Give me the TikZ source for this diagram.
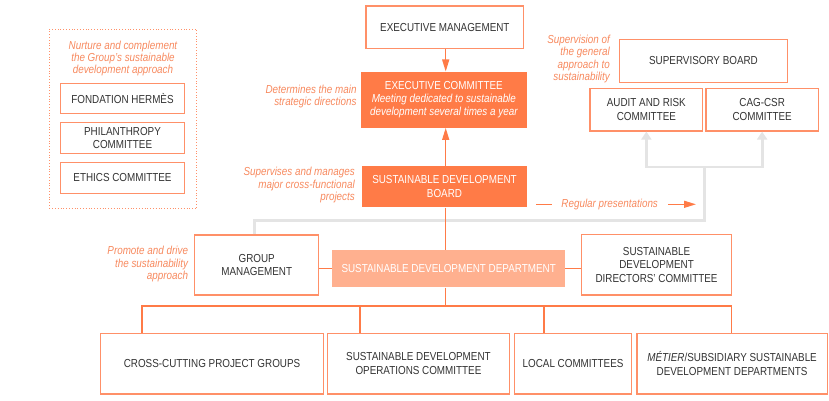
\documentclass[tikz,border=0pt]{standalone}
\usepackage{fontspec}
\setmainfont{Liberation Sans}[FakeStretch=0.85]
\usetikzlibrary{arrows.meta,calc}
\definecolor{darkor}{HTML}{FF7B47}
\definecolor{lightor}{HTML}{FFB08F}
\definecolor{bordcol}{HTML}{FF9068}
\definecolor{linecol}{HTML}{FF7B47}
\definecolor{notecol}{HTML}{F7895E}
\definecolor{greycol}{HTML}{E4E4E4}
\definecolor{txtcol}{HTML}{333333}
\tikzset{
  boxfont/.style={font=\fontsize{11.6}{13.4}\selectfont},
  notefont/.style={font=\fontsize{11.6}{12.4}\selectfont\itshape},
  wbox/.style={draw=bordcol, line width=1.1pt, fill=white, text=txtcol, align=center, inner sep=0pt, boxfont},
  dbox/.style={fill=darkor, draw=none, text=white, align=center, inner sep=0pt, boxfont},
  lbox/.style={fill=lightor, draw=none, text=white, align=center, inner sep=0pt, boxfont},
  note/.style={text=notecol, inner sep=0pt, notefont},
  conn/.style={draw=linecol, line width=1.3pt},
  oarrow/.style={conn, -{Triangle[length=12pt,width=7pt]}},
  gline/.style={draw=greycol, line width=2.8pt},
  garrow/.style={gline, -{Triangle[length=8pt,width=10pt]}},
}
\begin{document}
\begin{tikzpicture}[x=1pt,y=-1pt]
\useasboundingbox (0,0) rectangle (829,401);
% left dotted group
\node[draw=bordcol, dotted, line width=0.8pt, minimum width=147.4pt, minimum height=179pt, inner sep=0pt] (grp) at (123,118.8) {};
\node[note, align=center] (grpnote) at (123,58.5) {Nurture and complement\\the Group's sustainable\\development approach};
\node[wbox, minimum width=123.6pt, minimum height=30pt] (fond) at (122.5,98.3) {FONDATION HERMÈS};
\node[wbox, minimum width=123.6pt, minimum height=31pt] (phil) at (122.5,137.8) {PHILANTHROPY\\COMMITTEE};
\node[wbox, minimum width=123.6pt, minimum height=30.6pt] (ethics) at (122.5,178) {ETHICS COMMITTEE};
% centre column
\node[wbox, minimum width=157.7pt, minimum height=42.3pt] (execm) at (444.85,27.15) {EXECUTIVE MANAGEMENT};
\node[dbox, minimum width=165.7pt, minimum height=56pt] (execc) at (443.85,99.7) {EXECUTIVE COMMITTEE\\\itshape Meeting dedicated to sustainable\\\itshape development several times a year};
\node[dbox, minimum width=165.6pt, minimum height=41.6pt] (sdb) at (444.5,186.5) {SUSTAINABLE DEVELOPMENT\\BOARD};
\node[note, align=right, anchor=east] (detnote) at (356.7,96.5) {Determines the main\\strategic directions};
\node[note, align=right, anchor=east] (supnote) at (355,185) {Supervises and manages\\major cross-functional\\projects};
% right column
\node[wbox, minimum width=168.4pt, minimum height=43pt] (supb) at (703.5,60.8) {SUPERVISORY BOARD};
\node[wbox, minimum width=112.7pt, minimum height=42.7pt] (audit) at (646.35,109.65) {AUDIT AND RISK\\COMMITTEE};
\node[wbox, minimum width=112.3pt, minimum height=42.7pt] (cag) at (762.15,109.65) {CAG-CSR\\COMMITTEE};
\node[note, align=right, anchor=east] (svnote) at (610,59.2) {Supervision of\\the general\\approach to\\sustainability};
% middle row
\node[wbox, minimum width=123.8pt, minimum height=60pt] (gm) at (256.7,265) {GROUP\\MANAGEMENT};
\node[lbox, minimum width=233.1pt, minimum height=37.3pt] (sdd) at (448.65,268.65) {SUSTAINABLE DEVELOPMENT DEPARTMENT};
\node[wbox, minimum width=150.5pt, minimum height=60.7pt] (sddc) at (656.55,264.65) {SUSTAINABLE\\DEVELOPMENT\\DIRECTORS' COMMITTEE};
\node[note, align=right, anchor=east] (prnote) at (188.2,264) {Promote and drive\\the sustainability\\approach};
% bottom row
\node[wbox, minimum width=223.2pt, minimum height=60.7pt] (cross) at (212,363.65) {CROSS-CUTTING PROJECT GROUPS};
\node[wbox, minimum width=181.3pt, minimum height=60.7pt] (ops) at (418.45,363.65) {SUSTAINABLE DEVELOPMENT\\OPERATIONS COMMITTEE};
\node[wbox, minimum width=117.5pt, minimum height=60.7pt] (local) at (573.05,363.65) {LOCAL COMMITTEES};
\node[wbox, minimum width=190.1pt, minimum height=60.7pt] (metier) at (732.05,363.65) {\textit{MÉTIER}/SUBSIDIARY SUSTAINABLE\\DEVELOPMENT DEPARTMENTS};
% helper coordinates
\coordinate (spine) at (445.7,0);
\coordinate (bus) at (0,306);
\coordinate (b1) at (141.9,0);
\coordinate (b2) at (359.9,0);
\coordinate (b3) at (544,0);
\coordinate (b4) at (731.8,0);
\coordinate (g1) at (254.5,0);
\coordinate (gtop) at (0,220.7);
\coordinate (trunk) at (704.5,0);
\coordinate (gmid) at (0,167);
\coordinate (rp1) at (536,204.3);
\coordinate (rp2) at (551.7,204.3);
\coordinate (rp3) at (668.3,204.3);
\coordinate (rp4) at (696,204.3);
% grey connectors
\draw[gline] (gm.north -| g1) -- (g1 |- gtop) -- (trunk |- gtop) -- (trunk |- gmid);
\draw[garrow] (trunk |- gmid) -| (audit.south);
\draw[garrow] (trunk |- gmid) -| (cag.south);
% orange connectors
\draw[oarrow] (execm.south -| spine) -- (execc.north -| spine);
\draw[oarrow] (sdb.north -| spine) -- (execc.south -| spine);
\draw[conn] (sdb.south -| spine) -- (sdd.north -| spine);
\draw[conn] (gm.east |- sdd.center) -- (sdd.west);
\draw[conn] (sdd.east) -- (sddc.west |- sdd.center);
\draw[conn] (sdd.south -| spine) -- (spine |- bus);
\draw[conn] (b1 |- cross.north) -- (b1 |- bus) -- (b4 |- bus) -- (b4 |- metier.north);
\draw[conn] (b2 |- bus) -- (b2 |- ops.north);
\draw[conn] (b3 |- bus) -- (b3 |- local.north);
% regular presentations
\draw[conn] (rp1) -- (rp2);
\node[note] (rpnote) at (609.7,204.3) {Regular presentations};
\draw[oarrow] (rp3) -- (rp4);
\end{tikzpicture}
\end{document}
